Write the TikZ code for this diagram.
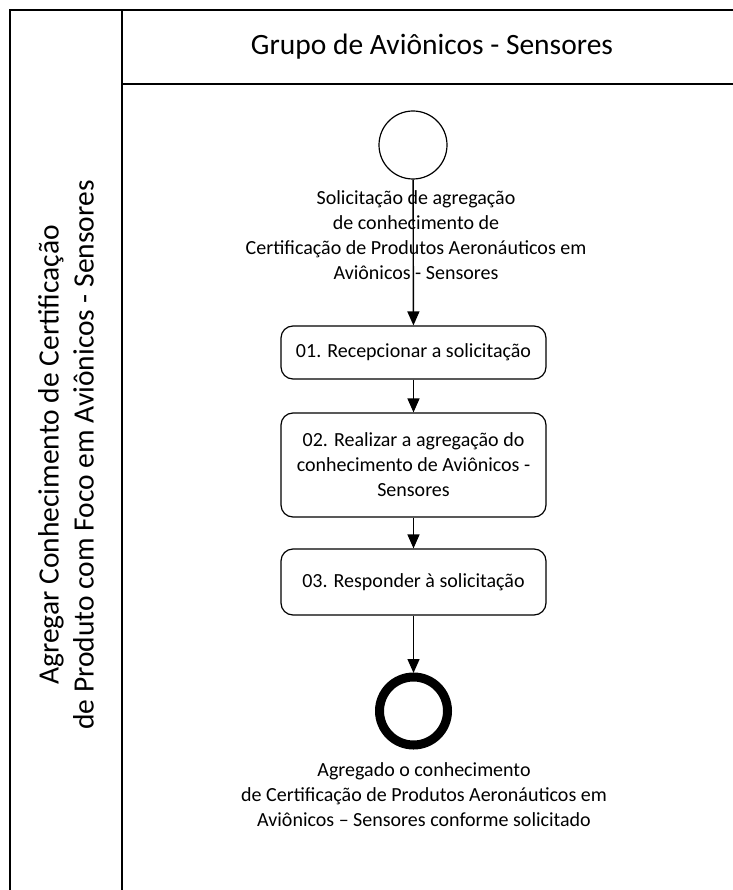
\documentclass[tikz,border=0pt]{standalone}
\usepackage{fontspec}
\setmainfont{Carlito}
\usetikzlibrary{arrows.meta}
\tikzset{
  lane/.style={line width=2.4pt, line cap=rect},
  task/.style={draw, line width=1.2pt, rounded corners=12pt, align=center, font=\fontsize{20}{25}\selectfont, inner sep=0pt},
  flow/.style={line width=1.4pt, -{Triangle[width=12pt,length=14pt]}},
  lbl/.style={align=center, font=\fontsize{20}{25}\selectfont, inner sep=0pt},
  big/.style={font=\fontsize{29.5}{35}\selectfont, align=center, inner sep=0pt}
}
\begin{document}
\begin{tikzpicture}[x=1pt,y=-1pt]
\useasboundingbox (0,0) rectangle (732,890);
% pool / lane lines
\draw[lane] (10,890) -- (10,10) -- (732,10);
\draw[lane] (122,10) -- (122,890);
\draw[lane] (122,84) -- (732,84);
\node[big] (hdr) at (432,47) {Grupo de Aviônicos - Sensores};
\node[big, rotate=90] (pool) at (66,455) {Agregar Conhecimento de Certificação\\de Produto com Foco em Aviônicos - Sensores};
% start event
\node[draw, circle, line width=1.2pt, minimum size=68pt, inner sep=0pt] (start) at (413,145) {};
\node[lbl] (startlbl) at (416,235) {Solicitação de agregação\\de conhecimento de\\Certificação de Produtos Aeronáuticos em\\Aviônicos - Sensores};
% tasks
\node[task, minimum width=265pt, minimum height=53pt] (t1) at (413.5,352.5) {01. Recepcionar a solicitação};
\node[task, minimum width=265pt, minimum height=104pt] (t2) at (413.5,465) {02. Realizar a agregação do\\conhecimento de Aviônicos -\\Sensores};
\node[task, minimum width=265pt, minimum height=66pt] (t3) at (413.5,582) {03. Responder à solicitação};
% end event
\node[draw, circle, line width=9pt, minimum size=68pt, inner sep=0pt] (end) at (413.5,711) {};
\node[lbl] (endlbl) at (424,795) {Agregado o conhecimento\\de Certificação de Produtos Aeronáuticos em\\Aviônicos – Sensores conforme solicitado};
% flows
\draw[flow] (start) -- (t1);
\draw[flow] (t1) -- (t2);
\draw[flow] (t2) -- (t3);
\draw[flow] (t3) -- (end.north |- 0,673);
\end{tikzpicture}
\end{document}
